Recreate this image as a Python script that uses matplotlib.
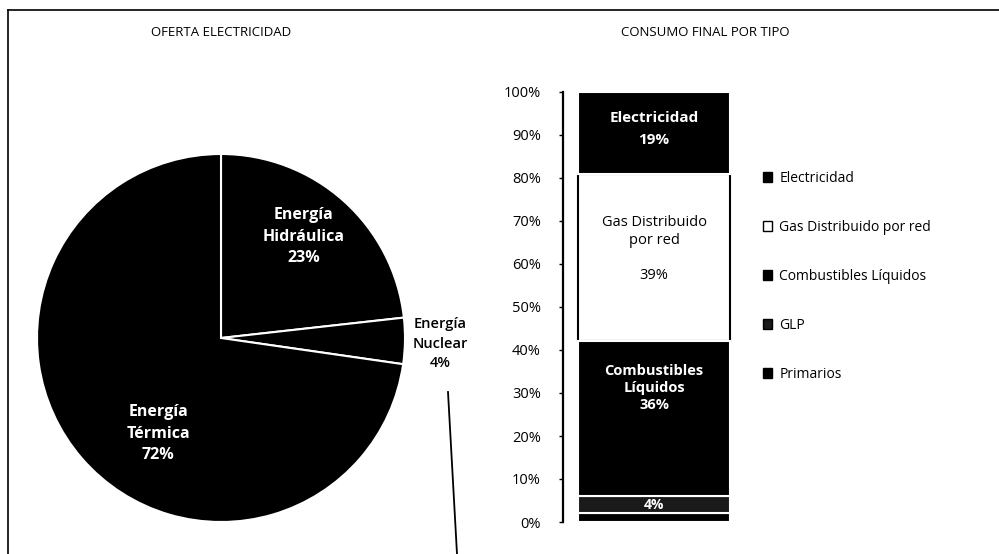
import matplotlib
matplotlib.use("Agg")
import matplotlib.pyplot as plt
from matplotlib.lines import Line2D
import numpy as np

plt.rcParams['font.family'] = ['Open Sans', 'DejaVu Sans']

# oferta de electricidad (pie)
pie_labels = ["Energía\nHidráulica", "Energía\nNuclear", "Energía\nTérmica"]
pie_values = [23, 4, 72]

# consumo final por tipo (stacked bar), bottom to top
bar_names = ["Primarios", "GLP", "Combustibles Líquidos", "Gas Distribuido por red", "Electricidad"]
bar_values = [2, 4, 36, 39, 19]
bar_colors = ["#000000", "#1a1a1a", "#000000", "#ffffff", "#000000"]
yticks = list(range(0, 101, 10))

W, H = 999, 554
fig = plt.figure(figsize=(W / 100, H / 100), dpi=100)

def box(x0, y0, x1, y1):
    # pixel box (top-left origin) -> figure fraction
    return [x0 / W, 1 - y1 / H, (x1 - x0) / W, (y1 - y0) / H]

# frame lines (top and left)
fig.add_artist(Line2D([8 / W, 1], [1 - 10 / H, 1 - 10 / H], color="black", lw=1.2))
fig.add_artist(Line2D([8 / W, 8 / W], [0, 1 - 10 / H], color="black", lw=1.2))
# stray leader line below the nuclear label
fig.add_artist(Line2D([448 / W, 457 / W], [1 - 392 / H, 0], color="black", lw=1.3))

fig.text(221 / W, 1 - 33 / H, "OFERTA ELECTRICIDAD", ha="center", va="center", fontsize=9.5)
fig.text(705 / W, 1 - 33 / H, "CONSUMO FINAL POR TIPO", ha="center", va="center", fontsize=9.5)

# ---- pie ----
cx, cy, r = 221, 338, 184
axp = fig.add_axes(box(cx - r, cy - r, cx + r, cy + r))
axp.pie(pie_values, startangle=90, counterclock=False, colors=["black"] * 3,
        radius=1, wedgeprops=dict(edgecolor="white", linewidth=1.5))
axp.set_xlim(-1, 1); axp.set_ylim(-1, 1); axp.set_aspect("equal"); axp.axis("off")
pcts = [f"{v}%" for v in pie_values]
axp.text(0.45, 0.55, pie_labels[0] + "\n" + pcts[0], color="white", ha="center", va="center",
         fontsize=11.5, fontweight="bold", linespacing=1.45)
axp.text(1.19, -0.03, pie_labels[1] + "\n" + pcts[1], color="black", ha="center", va="center",
         fontsize=10.5, fontweight="semibold", linespacing=1.5)
axp.text(-0.34, -0.52, pie_labels[2] + "\n" + pcts[2], color="white", ha="center", va="center",
         fontsize=11.5, fontweight="bold", linespacing=1.45)

# ---- stacked bar ----
axb = fig.add_axes(box(563, 92, 745, 522))
bottom = 0
handles = []
for name, v, c in zip(bar_names, bar_values, bar_colors):
    ec = "black" if c == "#ffffff" else "white"
    b = axb.bar(0.5, v, bottom=bottom, width=0.835, color=c, edgecolor=ec, linewidth=1.5,
                zorder=2 if c == "#ffffff" else 3)
    handles.append(b)
    bottom += v
axb.set_xlim(0, 1); axb.set_ylim(0, 100)
axb.set_yticks(yticks)
axb.set_yticklabels([f"{t}%" for t in yticks], fontsize=10.5)
axb.tick_params(axis="y", length=3, width=1, pad=13)
axb.set_xticks([])
for s in ["top", "right", "bottom"]:
    axb.spines[s].set_visible(False)
axb.spines["left"].set_linewidth(1.6)

cum = np.cumsum([0] + bar_values)
axb.text(0.5, cum[4] + bar_values[4] * 0.55, "Electricidad\n19%", color="white", ha="center", va="center",
         fontsize=11, fontweight="bold", linespacing=1.7, zorder=5)
axb.text(0.5, cum[3] + bar_values[3] * 0.55, "Gas Distribuido\npor red\n\n39%", color="black", ha="center",
         va="center", fontsize=10.5, linespacing=1.25, zorder=5)
axb.text(0.5, cum[2] + bar_values[2] * 0.7, "Combustibles\nLíquidos\n36%", color="white", ha="center",
         va="center", fontsize=10.5, fontweight="bold", linespacing=1.3, zorder=5)
axb.text(0.5, cum[1] + bar_values[1] * 0.5, "4%", color="white", ha="center", va="center",
         fontsize=10, fontweight="bold", zorder=5)

leg = fig.legend(handles[::-1], bar_names[::-1], loc="upper left", bbox_to_anchor=(757 / W, 1 - 165 / H),
                 frameon=False, fontsize=10, handlelength=0.7, handleheight=0.7, handletextpad=0.5,
                 labelspacing=2.45, borderaxespad=0)
for h in leg.legend_handles:
    h.set_edgecolor("black")
    h.set_linewidth(1)

fig.savefig("out.png", dpi=100)
